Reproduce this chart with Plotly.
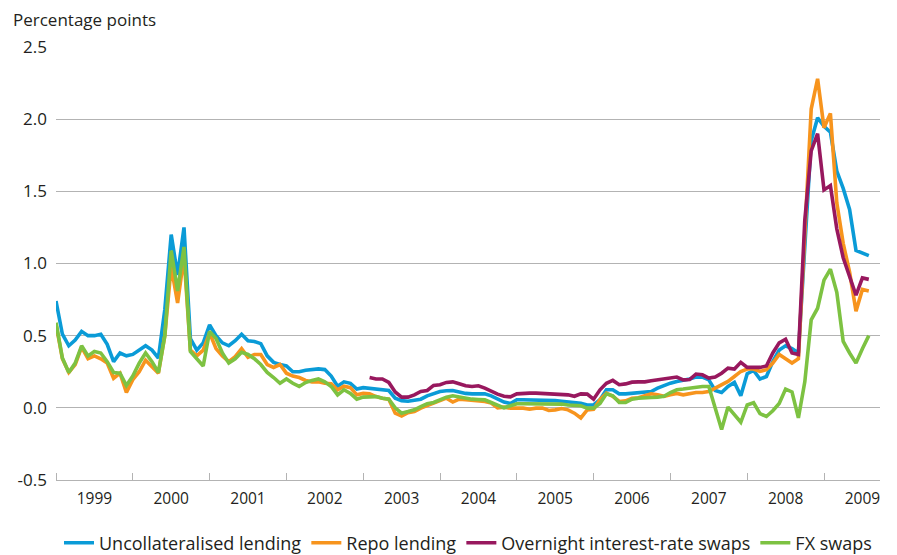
import plotly.graph_objects as go

# Monthly observations, month 0 = first month shown (left edge of the chart)
years = ['1999', '2000', '2001', '2002', '2003', '2004', '2005', '2006', '2007', '2008', '2009']

uncollateralised = [
    0.74, 0.51, 0.43, 0.47, 0.53, 0.50, 0.50, 0.51, 0.44, 0.32, 0.38, 0.36,
    0.37, 0.40, 0.43, 0.40, 0.345, 0.68, 1.20, 0.92, 1.25, 0.48, 0.40, 0.45,
    0.575, 0.50, 0.45, 0.43, 0.465, 0.51, 0.465, 0.46, 0.445, 0.36, 0.315, 0.30,
    0.29, 0.25, 0.25, 0.26, 0.265, 0.27, 0.265, 0.22, 0.15, 0.18, 0.17, 0.13,
    0.14, 0.136, 0.13, 0.13, 0.12, 0.067, 0.05, 0.046, 0.05, 0.06, 0.083, 0.10,
    0.113, 0.118, 0.12, 0.11, 0.10, 0.097, 0.10, 0.097, 0.083, 0.06, 0.04, 0.03,
    0.056, 0.056, 0.056, 0.056, 0.054, 0.052, 0.05, 0.046, 0.042, 0.037, 0.032, 0.02,
    0.02, 0.056, 0.125, 0.125, 0.097, 0.097, 0.102, 0.109, 0.109, 0.113, 0.136, 0.155,
    0.171, 0.183, 0.19, 0.20, 0.213, 0.213, 0.194, 0.12, 0.106, 0.148, 0.176, 0.083,
    0.236, 0.259, 0.20, 0.217, 0.32, 0.40, 0.43, 0.41, 0.38, 1.12, 1.85, 2.01,
    1.95, 1.91, 1.64, 1.52, 1.375, 1.09, 1.075, 1.055,
]

repo = [
    0.58, 0.34, 0.245, 0.30, 0.42, 0.34, 0.36, 0.34, 0.31, 0.205, 0.24, 0.106,
    0.195, 0.25, 0.33, 0.287, 0.24, 0.50, 0.98, 0.727, 1.05, 0.40, 0.36, 0.40,
    0.52, 0.41, 0.36, 0.32, 0.355, 0.41, 0.35, 0.37, 0.37, 0.30, 0.28, 0.30,
    0.24, 0.22, 0.21, 0.19, 0.18, 0.18, 0.17, 0.167, 0.125, 0.15, 0.14, 0.09,
    0.10, 0.097, 0.078, 0.067, 0.06, -0.037, -0.056, -0.033, -0.026, -0.002, 0.014, 0.033,
    0.051, 0.067, 0.04, 0.06, 0.056, 0.052, 0.044, 0.044, 0.033, 0.0, 0.005, -0.002,
    -0.002, -0.002, -0.01, -0.002, -0.002, -0.018, -0.014, -0.005, -0.014, -0.037, -0.07, -0.014,
    -0.01, 0.056, 0.102, 0.08, 0.044, 0.048, 0.067, 0.07, 0.083, 0.097, 0.09, 0.08,
    0.09, 0.10, 0.09, 0.097, 0.106, 0.106, 0.113, 0.136, 0.16, 0.183, 0.217, 0.252,
    0.269, 0.269, 0.252, 0.264, 0.31, 0.37, 0.34, 0.31, 0.34, 1.25, 2.07, 2.28,
    1.94, 2.04, 1.42, 1.14, 0.94, 0.67, 0.82, 0.81,
]

# OIS series starts later (month 49)
ois_start = 49
ois = [
    0.21, 0.20, 0.20, 0.176, 0.11, 0.074, 0.074, 0.09, 0.113, 0.12, 0.155,
    0.16, 0.176, 0.18, 0.167, 0.153, 0.148, 0.153, 0.137, 0.113, 0.095, 0.08, 0.076,
    0.097, 0.102, 0.102, 0.102, 0.10, 0.10, 0.10, 0.098, 0.09, 0.08, 0.097, 0.095,
    0.06, 0.125, 0.17, 0.19, 0.16, 0.166, 0.178, 0.18, 0.18, 0.187, 0.194, 0.20,
    0.206, 0.213, 0.194, 0.196, 0.234, 0.229, 0.206, 0.213, 0.24, 0.275, 0.269, 0.315,
    0.28, 0.28, 0.28, 0.29, 0.38, 0.45, 0.475, 0.38, 0.37, 1.30, 1.78, 1.90,
    1.51, 1.54, 1.24, 1.04, 0.91, 0.78, 0.90, 0.89,
]

fx_swaps = [
    0.59, 0.345, 0.245, 0.31, 0.43, 0.36, 0.39, 0.38, 0.32, 0.245, 0.24, 0.155,
    0.22, 0.31, 0.38, 0.32, 0.245, 0.50, 1.09, 0.81, 1.115, 0.39, 0.34, 0.29,
    0.53, 0.48, 0.38, 0.31, 0.34, 0.385, 0.37, 0.34, 0.30, 0.245, 0.21, 0.17,
    0.20, 0.17, 0.148, 0.175, 0.19, 0.20, 0.18, 0.148, 0.09, 0.125, 0.10, 0.06,
    0.074, 0.078, 0.078, 0.067, 0.06, 0.0, -0.037, -0.026, -0.014, 0.009, 0.028, 0.037,
    0.056, 0.074, 0.083, 0.074, 0.067, 0.06, 0.058, 0.055, 0.037, 0.02, 0.0, 0.014,
    0.028, 0.028, 0.028, 0.03, 0.03, 0.028, 0.026, 0.026, 0.02, 0.018, 0.014, -0.002,
    -0.002, 0.03, 0.097, 0.083, 0.037, 0.037, 0.06, 0.067, 0.067, 0.072, 0.074, 0.08,
    0.106, 0.125, 0.13, 0.136, 0.148, 0.148, 0.148, 0.0, -0.15, 0.005, -0.05, -0.10,
    0.02, 0.035, -0.04, -0.06, -0.02, 0.03, 0.13, 0.11, -0.07, 0.18, 0.61, 0.69,
    0.885, 0.96, 0.80, 0.46, 0.38, 0.31, 0.41, 0.50,
]

y_ticks = [-0.5, 0.0, 0.5, 1.0, 1.5, 2.0, 2.5]
y_ticktext = ['-0.5', '0.0', '0.5', '1.0', '1.5', '2.0', '2.5']

months = list(range(len(uncollateralised)))
ois_months = list(range(ois_start, ois_start + len(ois)))

fig = go.Figure()

series = [
    ('Uncollateralised lending', months, uncollateralised, '#0a9bd7'),
    ('Repo lending', months, repo, '#f7941d'),
    ('Overnight interest-rate swaps', ois_months, ois, '#98185e'),
    ('FX swaps', months, fx_swaps, '#7dc242'),
]
for name, xs, ys, col in series:
    fig.add_trace(go.Scatter(
        x=xs, y=ys, name=name, mode='lines',
        line=dict(color=col, width=3.6),
    ))

year_centers = [12 * k + 6 for k in range(len(years))]
year_bounds = [12 * k for k in range(len(years))]

# page body has an 8px margin, so the figure is sized to fill the rest of the window
fig.update_layout(
    width=889, height=547,
    margin=dict(l=48, r=17, t=39, b=75, autoexpand=False),
    plot_bgcolor='white', paper_bgcolor='white',
    font=dict(family='Open Sans, sans-serif', size=16, color='#231f20'),
    showlegend=True,
    legend=dict(
        orientation='h', x=0.5, xanchor='center', y=-0.1455, yanchor='middle',
        font=dict(size=18), itemwidth=30, traceorder='normal',
    ),
    xaxis=dict(
        range=[0, 128.75],
        tickmode='array', tickvals=year_centers, ticktext=years,
        ticks='', showgrid=False, zeroline=False, automargin=False,
        tickfont=dict(size=15.5), ticklabelstandoff=4,
        showline=True, linecolor='#b3b3b3', linewidth=1.3,
        minor=dict(tickvals=year_bounds, ticks='inside', ticklen=7,
                   tickcolor='#b3b3b3', tickwidth=1, showgrid=False),
    ),
    yaxis=dict(
        range=[-0.5, 2.5], automargin=False,
        tickmode='array', tickvals=y_ticks, ticktext=y_ticktext,
        tickfont=dict(size=17),
        showgrid=True, gridcolor='#b3b3b3', gridwidth=1.3,
        zeroline=False, ticks='', ticklabelstandoff=8,
    ),
    annotations=[dict(
        text='Percentage points', xref='paper', yref='paper',
        x=-0.055, y=1.064, xanchor='left', yanchor='middle',
        showarrow=False, font=dict(size=17),
    )],
)

fig.write_html('out.html')
